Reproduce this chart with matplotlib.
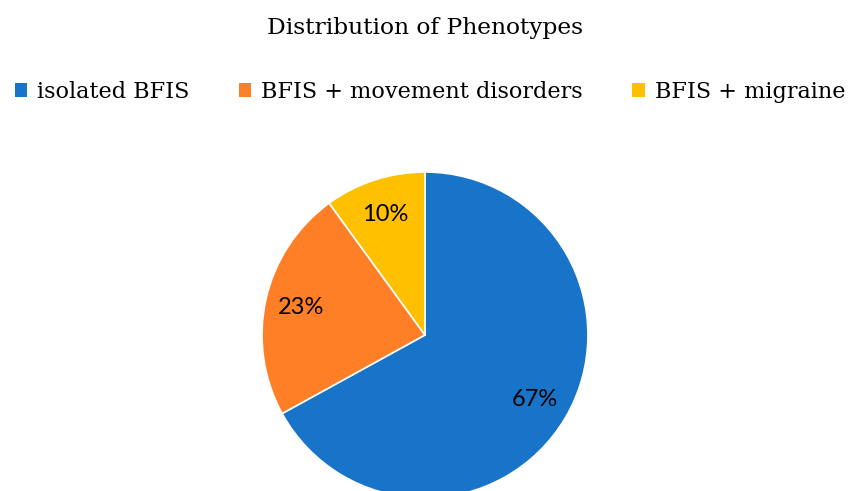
import matplotlib.pyplot as plt
from matplotlib.patches import Patch

# phenotype shares (%)
categories = ['isolated BFIS', 'BFIS + movement disorders', 'BFIS + migraine']
shares = [67, 23, 10]
colors = ['#1874C9', '#FF7F27', '#FFC000']

fig = plt.figure(figsize=(8.5, 4.91), dpi=100)

# pie axes placed so the bottom runs off the figure, like the reference
ax = fig.add_axes([0.3082, -0.0143, 0.3835, 0.664])
wedges, texts, autotexts = ax.pie(
    shares, colors=colors, startangle=90, counterclock=False,
    autopct='%1.0f%%', pctdistance=0.78,
    wedgeprops=dict(edgecolor='white', linewidth=1.2),
    textprops=dict(fontsize=17, family='Lato', color='black'))
ax.set_xlim(-1, 1)
ax.set_ylim(-1, 1)
ax.set_aspect('auto')
ax.axis('off')

fig.text(0.5, 1 - 34 / 491, 'Distribution of Phenotypes', ha='center',
         va='baseline', fontsize=16.8, family='DejaVu Serif')

handles = [Patch(facecolor=c, label=l) for c, l in zip(colors, categories)]
fig.legend(handles=handles, loc='center', bbox_to_anchor=(0.506, 0.813), ncol=3,
           frameon=False, handlelength=0.55, handleheight=0.55, handletextpad=0.45,
           columnspacing=2.2, borderaxespad=0,
           prop=dict(family='DejaVu Serif', size=16.1))

fig.savefig('out.png', dpi=100)
